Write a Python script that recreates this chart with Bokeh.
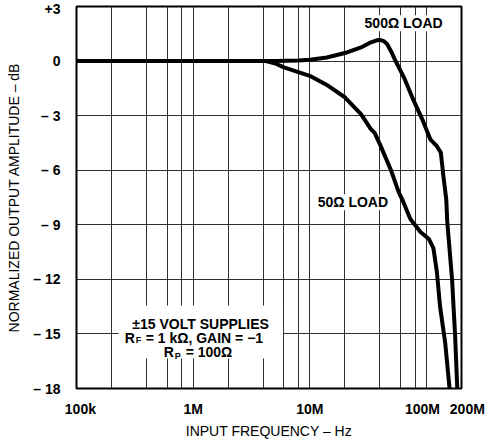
from bokeh.plotting import figure
from bokeh.models import FixedTicker, Label, BoxAnnotation, Range1d
from bokeh.embed import file_html
from bokeh.resources import INLINE

# ---- data ----
f_500 = [1e5, 1e6, 3e6, 5e6, 8e6, 10e6, 14e6, 20e6, 27.5e6, 33.5e6, 38e6, 40e6,
         43e6, 46e6, 49.5e6, 54.5e6, 64e6, 78e6, 92e6, 108e6, 123e6, 133e6,
         140e6, 148e6, 151e6, 166e6, 176e6, 184e6]
db_500 = [0, 0, 0, 0.01, 0.03, 0.07, 0.2, 0.44, 0.75, 1.03, 1.15, 1.17,
          1.1, 0.94, 0.57, 0.0, -0.88, -2.19, -3.19, -4.3, -4.68, -5.03,
          -6.34, -7.6, -8.84, -12.0, -15.0, -18.0]

f_50 = [1e5, 1e6, 3e6, 4.2e6, 5e6, 6e6, 10e6, 14.4e6, 20e6, 27.5e6, 33.5e6, 36e6,
        40e6, 49.5e6, 58e6, 62e6, 73e6, 89e6, 105e6, 115e6, 123e6, 131e6,
        145e6, 158e6]
db_50 = [0, 0, 0, 0, -0.12, -0.35, -0.81, -1.36, -1.99, -2.92, -3.75, -3.95,
         -4.58, -5.97, -7.22, -7.6, -8.69, -9.4, -9.78, -10.3, -11.6, -13.5,
         -15.5, -18.0]

NB = "\u00a0"
x_ticks = [1e5, 1e6, 1e7, 1e8, 2e8]
x_tick_labels = [NB * 2 + "100k", "1M", "10M", "100M" + NB * 2, NB * 3 + "200M"]
x_grid = [1e5, 2e5, 4e5, 6e5, 8e5, 1e6, 2e6, 4e6, 6e6, 8e6, 1e7, 2e7, 4e7, 6e7,
          8e7, 1e8, 2e8]
y_ticks = [3, 0, -3, -6, -9, -12, -15, -18]
y_tick_labels = ["+3", "0", "– 3", "– 6", "– 9", "– 12", "– 15", "– 18"]

FONT = "Liberation Sans"

p = figure(width=502, height=441, x_axis_type="log",
           x_range=Range1d(1e5, 2e8), y_range=Range1d(-18, 3),
           output_backend="svg", toolbar_location=None,
           min_border_top=6, min_border_left=76, min_border_right=41,
           min_border_bottom=53,
           background_fill_color="white", border_fill_color="white")

p.outline_line_color = "black"
p.outline_line_width = 2

# axes
for ax in (p.xaxis[0], p.yaxis[0]):
    ax.axis_line_color = None
    ax.major_tick_line_color = None
    ax.minor_tick_line_color = None
    ax.major_label_text_font = FONT
    ax.major_label_text_font_size = "14px"
    ax.major_label_text_font_style = "bold"
    ax.major_label_text_color = "black"
    ax.axis_label_text_font = FONT
    ax.axis_label_text_font_size = "14px"
    ax.axis_label_text_font_style = "normal"
    ax.axis_label_text_color = "black"

p.xaxis.ticker = FixedTicker(ticks=x_ticks)
p.xaxis.major_label_overrides = {float(t): l for t, l in zip(x_ticks, x_tick_labels)}
p.xaxis.axis_label = "INPUT FREQUENCY – Hz"
p.xaxis.major_label_standoff = 6
p.xaxis.axis_label_standoff = 3

p.yaxis.ticker = FixedTicker(ticks=y_ticks)
p.yaxis.major_label_overrides = {t: l for t, l in zip(y_ticks, y_tick_labels)}
p.yaxis.axis_label = "NORMALIZED OUTPUT AMPLITUDE – dB"
p.yaxis.major_label_standoff = 10
p.yaxis.axis_label_standoff = 8

# grid
p.xgrid.ticker = FixedTicker(ticks=x_grid)
p.ygrid.ticker = FixedTicker(ticks=y_ticks)
for g in (p.xgrid[0], p.ygrid[0]):
    g.grid_line_color = "#1a1a1a"
    g.grid_line_width = 1
    g.grid_line_alpha = 0.9

# curves
p.line(f_500, db_500, line_color="black", line_width=4, line_join="round")
p.line(f_50, db_50, line_color="black", line_width=4, line_join="round")

# annotations
txt = dict(text_font=FONT, text_font_size="14px", text_font_style="bold",
           text_color="black")
sub = dict(text_font=FONT, text_font_size="9px", text_font_style="bold",
           text_color="black")

p.add_layout(Label(x=29.5e6, y=2.08, text="500Ω LOAD", text_align="left",
                   text_baseline="middle", background_fill_color="white", **txt))
p.add_layout(Label(x=11.7e6, y=-7.76, text="50Ω LOAD", text_align="left",
                   text_baseline="middle", background_fill_color="white", **txt))

p.add_layout(BoxAnnotation(left=2.3e5, right=5.9e6, top=-13.44, bottom=-16.35,
                           fill_color="white", fill_alpha=1.0, line_color=None))

BOX_X = 1.16e6
p.add_layout(Label(x=BOX_X, y=-14.43, text="±15 VOLT SUPPLIES",
                   text_align="center", text_baseline="alphabetic", **txt))
p.add_layout(Label(x=BOX_X, y=-15.2, x_offset=-76, text="R",
                   text_align="left", text_baseline="alphabetic", **txt))
p.add_layout(Label(x=BOX_X, y=-15.36, x_offset=-65, text="F",
                   text_align="left", text_baseline="alphabetic", **sub))
p.add_layout(Label(x=BOX_X, y=-15.2, x_offset=-55, text="= 1 kΩ, GAIN =  −1",
                   text_align="left", text_baseline="alphabetic", **txt))
p.add_layout(Label(x=BOX_X, y=-16.02, x_offset=-37, text="R",
                   text_align="left", text_baseline="alphabetic", **txt))
p.add_layout(Label(x=BOX_X, y=-16.19, x_offset=-26, text="P",
                   text_align="left", text_baseline="alphabetic", **sub))
p.add_layout(Label(x=BOX_X, y=-16.02, x_offset=-15, text="= 100Ω",
                   text_align="left", text_baseline="alphabetic", **txt))

open("out.html", "w").write(file_html(p, INLINE))
